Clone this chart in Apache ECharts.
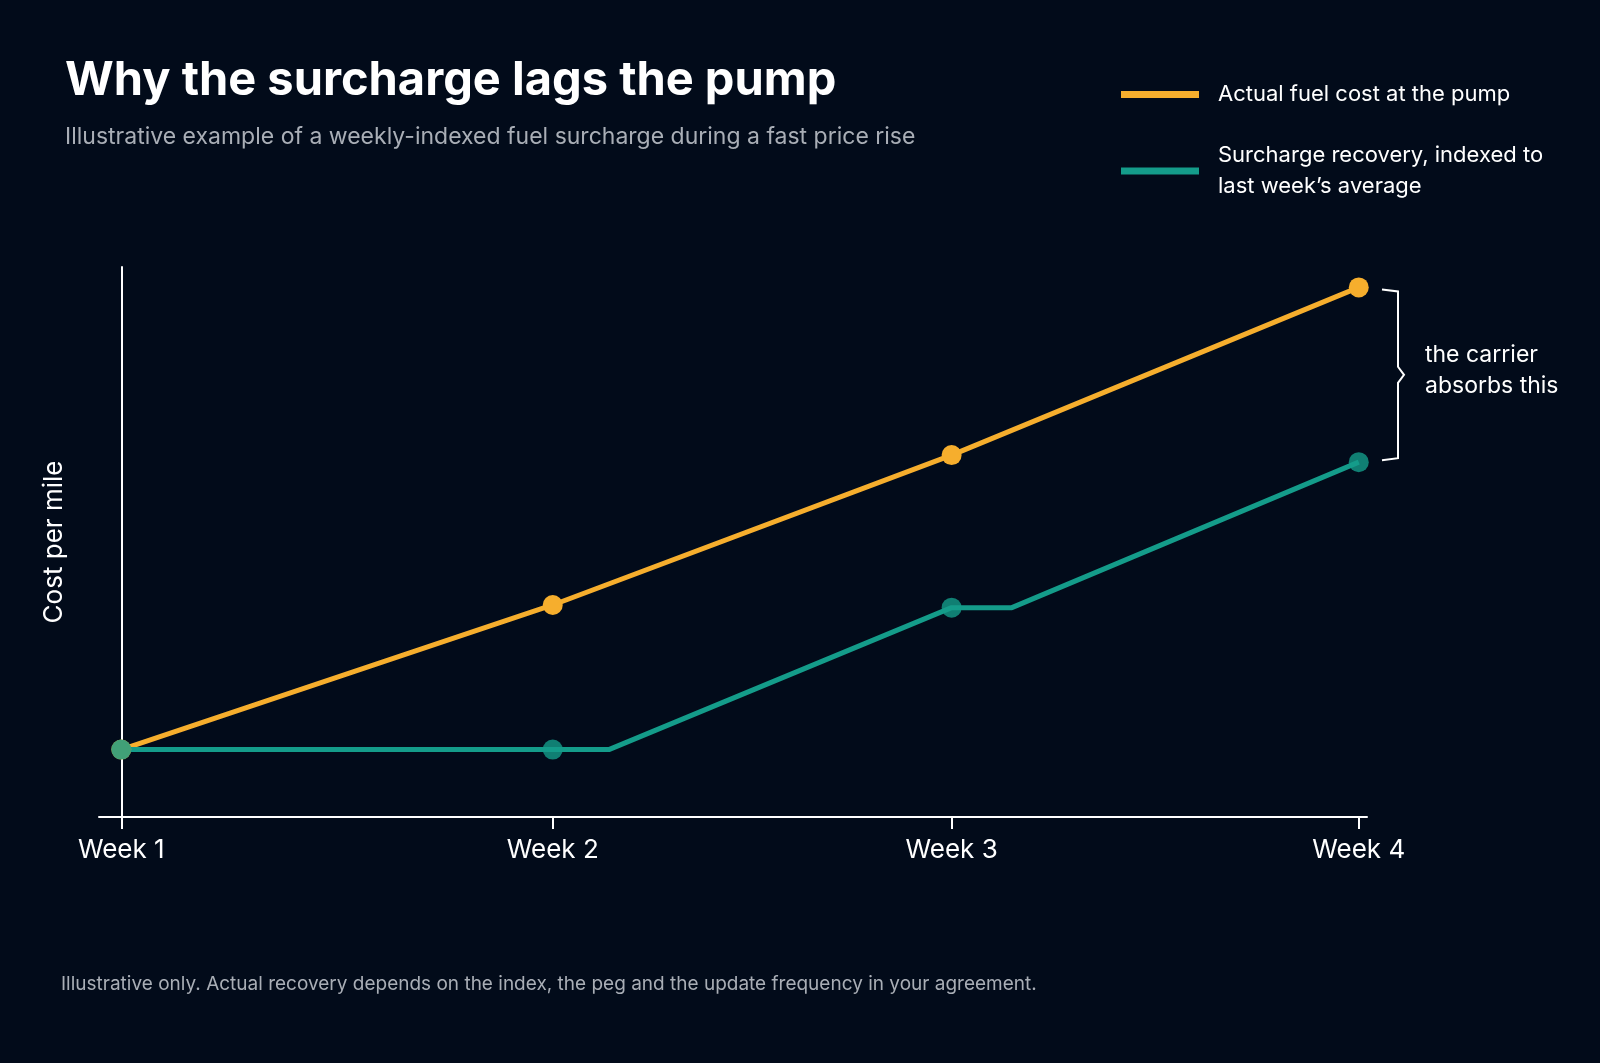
<!DOCTYPE html>
<html><head><meta charset="utf-8">
<script src="https://cdn.jsdelivr.net/npm/echarts@6/dist/echarts.min.js"></script>
<style>html,body{margin:0;padding:0;background:#020b1a}#c{width:1600px;height:1063px}</style>
</head><body><div id="c"></div>
<script>
const weekLabels = ['Week 1','Week 2','Week 3','Week 4'];
const weekPos = [0, 1.046, 2.013, 3];
const pumpCost = [[0,0.76],[1.046,2.39],[2.013,4.08],[3,5.97]];
const surcharge = [[0,0.76],[1.046,0.76],[1.182,0.76],[2.013,2.36],[2.159,2.36],[3,4.0]];
const surchargeDots = [[0,0.76],[1.046,0.76],[2.013,2.36],[3,4.0]];
const gridVals = [1,2,3,4,5,6];
const ORANGE='#f6ae2d', TEAL='#149c8a';
const chart = echarts.init(document.getElementById('c'));
const F='Inter, "Noto Sans", sans-serif';
chart.setOption({
  backgroundColor:'#020b1a',
  animation:false,
  title:{text:'Why the surcharge lags the pump',left:60,top:52,
    textStyle:{color:'#fff',fontSize:47,fontWeight:'bold',fontFamily:F},
    subtext:'Illustrative example of a weekly-indexed fuel surcharge during a fast price rise',
    subtextStyle:{color:'#a9aeb6',fontSize:23,fontFamily:F},itemGap:22},
  legend:{orient:'vertical',left:1116,top:74,itemWidth:78,itemHeight:7,itemGap:30,icon:'rect',
    textStyle:{color:'#fff',fontSize:22,fontFamily:F,lineHeight:31,padding:[0,0,0,14]},
    data:['Actual fuel cost at the pump','Surcharge recovery, indexed to\nlast week’s average']},
  grid:{left:99,right:233,top:267,bottom:246},
  xAxis:{type:'value',min:-0.054,max:3.02,
    axisLine:{lineStyle:{color:'#fff',width:2}},
    axisTick:{show:true,length:12,lineStyle:{color:'#fff',width:2},customValues:weekPos},
    axisLabel:{color:'#fff',fontSize:26,fontFamily:F,margin:20,customValues:weekPos,
      formatter:v=>{const i=weekPos.findIndex(p=>Math.abs(p-v)<1e-6);return i>=0?weekLabels[i]:'';}},
    splitLine:{show:false}},
  yAxis:{type:'value',min:0,max:6.2,name:'Cost per mile',nameLocation:'middle',nameGap:32,
    nameTextStyle:{color:'#fff',fontSize:26,fontFamily:F},
    axisLine:{show:true,lineStyle:{color:'#fff',width:2}},axisTick:{show:false},axisLabel:{show:false},
    splitLine:{show:false}},
  series:[
    {name:'Actual fuel cost at the pump',type:'line',data:pumpCost,color:ORANGE,
     lineStyle:{width:5},symbol:'circle',symbolSize:20,itemStyle:{color:ORANGE},z:3,
     markLine:{silent:true,symbol:'none',label:{show:false},
       lineStyle:{color:'#8a8f99',type:[2,5],width:1.5},
       data:gridVals.map(v=>[{coord:[-0.054,v]},{coord:[3.03,v]}])}},
    {name:'Surcharge recovery, indexed to\nlast week’s average',type:'line',data:surcharge,color:TEAL,
     lineStyle:{width:5},showSymbol:false,symbol:'none',itemStyle:{color:TEAL},z:3},
    {name:'dots',type:'scatter',data:surchargeDots,symbolSize:20,itemStyle:{color:TEAL},z:4}
  ]
});
const pTop = chart.convertToPixel({gridIndex:0},[3,pumpCost[3][1]]);
const pBot = chart.convertToPixel({gridIndex:0},[3,surcharge[5][1]]);
const bx = 1398, mid=(pTop[1]+pBot[1])/2;
chart.setOption({graphic:[
  {type:'polyline',shape:{points:[[bx-16,pTop[1]+2],[bx,pTop[1]+4],[bx,mid-8],[bx+6,mid],[bx,mid+8],[bx,pBot[1]-4],[bx-16,pBot[1]-2]]},
   style:{stroke:'#fff',lineWidth:2,fill:null}},
  {type:'text',left:1425,top:mid-35,style:{text:'the carrier\nabsorbs this',fill:'#fff',fontSize:23,fontFamily:F,lineHeight:31}},
  {type:'text',left:61,top:975,style:{text:'Illustrative only. Actual recovery depends on the index, the peg and the update frequency in your agreement.',fill:'#a9aeb6',fontSize:19,fontFamily:F}}
]});
</script></body></html>
